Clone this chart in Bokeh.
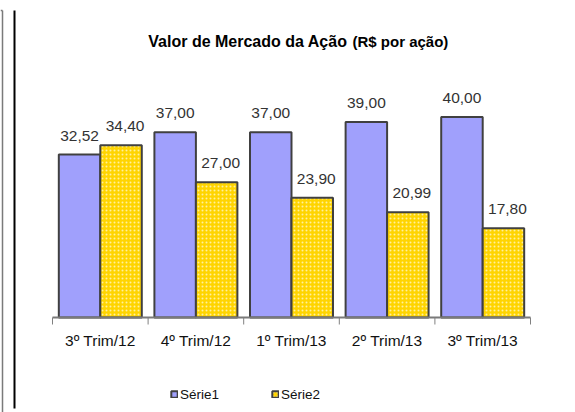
from bokeh.plotting import figure
from bokeh.models import Range1d, Label, Legend, LegendItem, ColumnDataSource
from bokeh.core.properties import value
from bokeh.embed import file_html
from bokeh.resources import INLINE
import numpy as np

# ---- data ----
categories = ["3º Trim/12", "4º Trim/12", "1º Trim/13", "2º Trim/13", "3º Trim/13"]
serie1 = [32.52, 37.00, 37.00, 39.00, 40.00]
serie2 = [34.40, 27.00, 23.90, 20.99, 17.80]
series_names = ["Série1", "Série2"]
title_main = "Valor de Mercado da Ação"
title_unit = "(R$ por ação)"

# ---- layout (figure pixels) ----
W, H = 575, 412
PLOT_L, PLOT_R, AXIS_Y = 52, 530, 317     # category area and baseline
PY = 5.01                                   # px per value unit
FONT = "Liberation Sans"
n = len(categories)
PX = (PLOT_R - PLOT_L) / n                  # px per category

p = figure(width=W, height=H, output_backend="svg", toolbar_location=None,
           x_range=Range1d(-PLOT_L / PX, (W - PLOT_L) / PX),
           y_range=Range1d(-(H - AXIS_Y) / PY, AXIS_Y / PY),
           min_border=0, x_axis_location=None, y_axis_location=None,
           outline_line_color=None,
           background_fill_color="white", border_fill_color="white")
p.xgrid.visible = False
p.ygrid.visible = False

def dx(fx):  # figure px -> data x
    return (fx - PLOT_L) / PX
def dy(fy):  # figure px -> data y
    return (AXIS_Y - fy) / PY

def fmt(v):
    return f"{v:.2f}".replace(".", ",")

idx = np.arange(n)
bw = 0.434
src = ColumnDataSource(dict(
    x1=idx + 0.5 - bw / 2, x2=idx + 0.5 + bw / 2, xc=idx + 0.5,
    cat=categories, s1=serie1, s2=serie2,
    l1=[fmt(v) for v in serie1], l2=[fmt(v) for v in serie2]))

r1 = p.vbar(x="x1", top="s1", width=bw, source=src,
            fill_color="#A0A0FC", line_color="#404040", line_width=2)
r2 = p.vbar(x="x2", top="s2", width=bw, source=src,
            fill_color="#FFD400", line_color="#404040", line_width=2,
            hatch_pattern="dot", hatch_color="#FFF3B0", hatch_scale=4,
            hatch_weight=1, hatch_alpha=0.9)

# value labels
p.text(x="x1", y="s1", text="l1", source=src, text_align="center",
       text_baseline="alphabetic", y_offset=-19, text_font=value(FONT),
       text_font_size="15.5px", text_color="#333333")
p.text(x="x2", y="s2", text="l2", source=src, text_align="center",
       text_baseline="alphabetic", y_offset=-19, x_offset=4, text_font=value(FONT),
       text_font_size="15.5px", text_color="#333333")

# category axis (baseline, boundary ticks, labels)
bounds = list(range(n + 1))
p.segment(x0=[0], y0=[0], x1=[n], y1=[0], line_color="#7a7a7a", line_width=2)
p.segment(x0=bounds, y0=[0] * (n + 1), x1=bounds, y1=[dy(AXIS_Y + 7)] * (n + 1),
          line_color="#808080", line_width=1)
p.text(x="xc", y=0, text="cat", source=src, text_align="center",
       text_baseline="alphabetic", y_offset=23, text_font=value(FONT),
       text_font_size="15.5px", text_color="#111111")

# title
p.add_layout(Label(x=dx(347), y=dy(41), text=title_main, text_align="right",
                   text_baseline="alphabetic", text_font=FONT,
                   text_font_style="bold", text_font_size="16px",
                   text_color="black"))
p.add_layout(Label(x=dx(352), y=dy(41), text=title_unit, text_align="left",
                   text_baseline="alphabetic", text_font=FONT,
                   text_font_style="bold", text_font_size="15px",
                   text_color="black"))

# legend
legend = Legend(items=[LegendItem(label=series_names[0], renderers=[r1]),
                       LegendItem(label=series_names[1], renderers=[r2])],
                location=(170, 10), orientation="horizontal",
                glyph_width=8, glyph_height=8, label_standoff=2, spacing=52,
                padding=0, margin=0, border_line_alpha=0,
                background_fill_alpha=0, label_text_font=FONT,
                label_text_font_size="13.5px", label_height=16,
                label_text_color="#111111")
p.add_layout(legend, "center")

# page frame lines at left
p.segment(x0=[dx(14)], y0=[dy(10)], x1=[dx(14)], y1=[dy(408)],
          line_color="black", line_width=2)
p.segment(x0=[dx(2), dx(0)], y0=[dy(10), dy(10)], x1=[dx(2), dx(2)], y1=[dy(H), dy(10)],
          line_color="#7a7a7a", line_width=1.5)

open("out.html", "w").write(file_html(p, INLINE))
